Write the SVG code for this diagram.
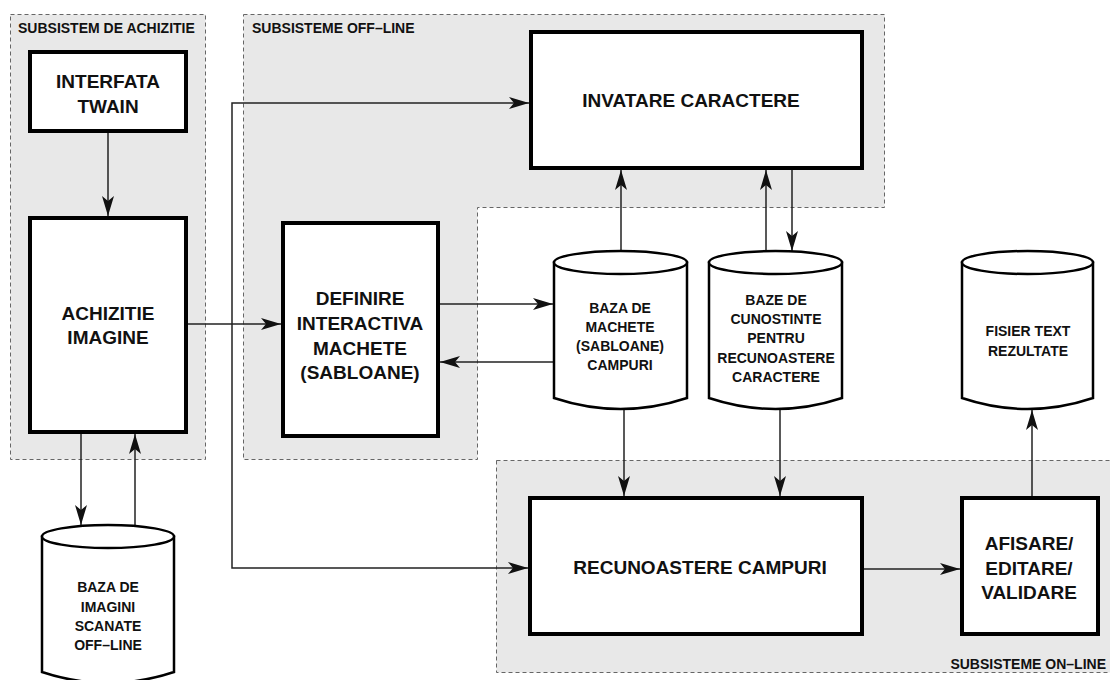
<svg xmlns="http://www.w3.org/2000/svg" width="1110" height="680" viewBox="0 0 1110 680">
<style>
  .region { fill: #e8e8e8; stroke: #666; stroke-width: 1; stroke-dasharray: 4 3; }
  .box { fill: #fff; stroke: #000; stroke-width: 4; }
  .cyl { fill: #fff; stroke: #000; stroke-width: 2.5; }
  .conn { fill: none; stroke: #222; stroke-width: 1.5; marker-end: url(#arr); }
  .line { fill: none; stroke: #222; stroke-width: 1.5; }
  text { font-family: "Liberation Sans", Arial, Helvetica, sans-serif; font-weight: bold; fill: #111; }
  .lbl { font-size: 14px; }
  .big { font-size: 19px; text-anchor: middle; }
  .small { font-size: 14px; text-anchor: middle; }
</style>
<defs>
  <marker id="arr" markerUnits="userSpaceOnUse" markerWidth="20" markerHeight="12" refX="20" refY="6" orient="auto">
    <path d="M0,0 L20,6 L0,12 L5,6 Z" fill="#111"/>
  </marker>
</defs>

<rect width="1110" height="680" fill="#fff"/>

<g id="regions">
  <rect id="reg-achizitie" class="region" x="10.5" y="14.5" width="195" height="445"/>
  <path id="reg-offline" class="region" d="M243.5,14.5 H884.5 V207.5 H477.5 V459.5 H243.5 Z"/>
  <rect id="reg-online" class="region" x="496.5" y="460.5" width="630" height="212"/>
  <text class="lbl" x="18" y="33">SUBSISTEM DE ACHIZITIE</text>
  <text class="lbl" x="252" y="33">SUBSISTEME OFF–LINE</text>
  <text class="lbl" x="1106" y="669" text-anchor="end">SUBSISTEME ON–LINE</text>
</g>

<g id="connectors">
  <path class="conn" d="M108,133 V216"/>
  <path class="conn" d="M81,434 V525"/>
  <path class="conn" d="M135,525 V434"/>
  <path class="conn" d="M188,324 H281"/>
  <path class="conn" d="M440,304 H553"/>
  <path class="conn" d="M554,362 H440"/>
  <path class="conn" d="M621,251 V170"/>
  <path class="conn" d="M766,251 V170"/>
  <path class="conn" d="M792,170 V251"/>
  <path class="conn" d="M624,410 V496"/>
  <path class="conn" d="M780,410 V496"/>
  <path class="conn" d="M864,569 H960"/>
  <path class="conn" d="M1032,496 V410"/>
  <path class="conn" d="M232,330 V103 H529"/>
  <path class="conn" d="M232,330 V568 H528"/>
</g>

<g id="node-twain">
  <rect class="box" x="30" y="52" width="156" height="79"/>
  <text class="big" x="108" y="88">INTERFATA</text>
  <text class="big" x="108" y="113">TWAIN</text>
</g>

<g id="node-achizitie">
  <rect class="box" x="30" y="218" width="156" height="214"/>
  <text class="big" x="108" y="320">ACHIZITIE</text>
  <text class="big" x="108" y="344">IMAGINE</text>
</g>

<g id="node-definire">
  <rect class="box" x="283" y="223" width="155" height="213"/>
  <text class="big" x="360" y="305">DEFINIRE</text>
  <text class="big" x="360" y="330">INTERACTIVA</text>
  <text class="big" x="360" y="355">MACHETE</text>
  <text class="big" x="360" y="379">(SABLOANE)</text>
</g>

<g id="node-invatare">
  <rect class="box" x="531" y="32" width="331" height="136"/>
  <text class="big" x="691" y="107">INVATARE CARACTERE</text>
</g>

<g id="node-recunoastere">
  <rect class="box" x="530" y="498" width="332" height="136"/>
  <text class="big" x="700" y="574">RECUNOASTERE CAMPURI</text>
</g>

<g id="node-afisare">
  <rect class="box" x="962" y="498" width="136" height="136"/>
  <text class="big" x="1029" y="550">AFISARE/</text>
  <text class="big" x="1029" y="575">EDITARE/</text>
  <text class="big" x="1029" y="599">VALIDARE</text>
</g>

<g id="node-baza-imagini">
  <path class="cyl" d="M42,536.5 V672 Q108,694 174,672 V536.5 Z"/>
  <ellipse class="cyl" cx="108" cy="536.5" rx="66" ry="11.5"/>
  <text class="small" x="108" y="592">BAZA DE</text>
  <text class="small" x="108" y="612">IMAGINI</text>
  <text class="small" x="108" y="631">SCANATE</text>
  <text class="small" x="108" y="650">OFF–LINE</text>
</g>

<g id="node-baza-machete">
  <path class="cyl" d="M554,262.5 V398 Q620.5,420 687,398 V262.5 Z"/>
  <ellipse class="cyl" cx="620.5" cy="262.5" rx="66.5" ry="11.5"/>
  <text class="small" x="620" y="313">BAZA DE</text>
  <text class="small" x="620" y="332">MACHETE</text>
  <text class="small" x="620" y="351">(SABLOANE)</text>
  <text class="small" x="620" y="370">CAMPURI</text>
</g>

<g id="node-baze-cunostinte">
  <path class="cyl" d="M709,262.5 V398 Q775.5,420 842,398 V262.5 Z"/>
  <ellipse class="cyl" cx="775.5" cy="262.5" rx="66.5" ry="11.5"/>
  <text class="small" x="776" y="305">BAZE DE</text>
  <text class="small" x="776" y="324">CUNOSTINTE</text>
  <text class="small" x="776" y="343">PENTRU</text>
  <text class="small" x="776" y="363">RECUNOASTERE</text>
  <text class="small" x="776" y="382">CARACTERE</text>
</g>

<g id="node-fisier">
  <path class="cyl" d="M962,262.5 V398 Q1027.5,420 1093,398 V262.5 Z"/>
  <ellipse class="cyl" cx="1027.5" cy="262.5" rx="65.5" ry="11.5"/>
  <text class="small" x="1028" y="336">FISIER TEXT</text>
  <text class="small" x="1028" y="356">REZULTATE</text>
</g>
</svg>
